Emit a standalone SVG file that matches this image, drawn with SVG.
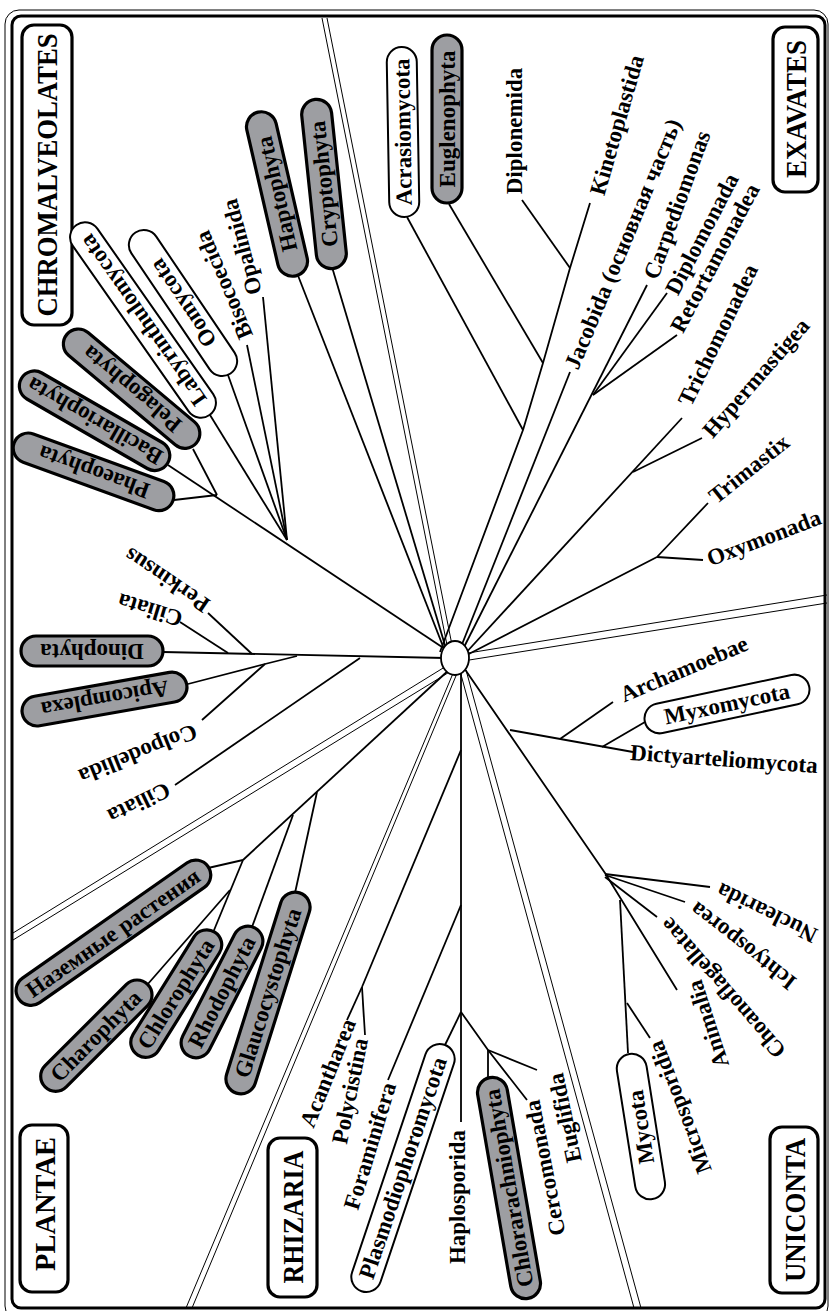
<svg xmlns="http://www.w3.org/2000/svg" width="829" height="1311" viewBox="0 0 829 1311">
<style>
.t{font-family:"Liberation Serif","Times New Roman",serif;font-weight:bold;font-size:23px;fill:#000;text-anchor:middle;dominant-baseline:central}
.gt{font-size:28.5px}
.ln{stroke:#000;stroke-width:1.8;fill:none;stroke-linejoin:round}
.sep{stroke:#000;stroke-width:1;fill:none}
.pg{fill:#9d9ea2;stroke:#000;stroke-width:3.2}
.pw{fill:#fff;stroke:#000;stroke-width:2}
.box{fill:#fff;stroke:#000;stroke-width:3.2}
</style>
<rect width="829" height="1311" fill="#fff"/>
<!-- frame -->
<rect x="5" y="10" width="823" height="1310" rx="14" fill="none" stroke="#000" stroke-width="1"/>
<rect x="12" y="16" width="813" height="1292" rx="9" fill="none" stroke="#000" stroke-width="3"/>

<g id="connectors">
  <!-- separators -->
  <g class="sep">
    <line x1="322" y1="18" x2="448" y2="650"/>
    <line x1="327" y1="18" x2="453" y2="650"/>
    <line x1="462" y1="654" x2="827" y2="595"/>
    <line x1="463" y1="661" x2="827" y2="603"/>
    <line x1="448" y1="665" x2="13" y2="933"/>
    <line x1="451" y1="671" x2="13" y2="940"/>
    <line x1="454" y1="671" x2="186" y2="1308"/>
    <line x1="458" y1="671" x2="192" y2="1308"/>
    <line x1="460" y1="671" x2="634" y2="1308"/>
    <line x1="466" y1="670" x2="641" y2="1308"/>
  </g>
  <g class="ln">
    <!-- chromalveolates -->
    <line x1="448" y1="651" x2="168" y2="465"/>
    <line x1="217" y1="495" x2="193" y2="449"/>
    <line x1="217" y1="495" x2="174" y2="500"/>
    <line x1="287" y1="540" x2="210" y2="415"/>
    <line x1="287" y1="540" x2="228" y2="375"/>
    <line x1="287" y1="540" x2="247" y2="345"/>
    <line x1="287" y1="540" x2="263" y2="297"/>
    <line x1="446" y1="654" x2="297" y2="273"/>
    <line x1="447" y1="652" x2="332" y2="267"/>
    <!-- alveolates -->
    <line x1="163" y1="652" x2="445" y2="658"/>
    <line x1="180" y1="622" x2="228" y2="653"/>
    <line x1="208" y1="613" x2="252" y2="654"/>
    <polyline points="188,684 265,664 297,656"/>
    <line x1="202" y1="720" x2="265" y2="664"/>
    <line x1="175" y1="785" x2="360" y2="658"/>
    <!-- plantae -->
    <line x1="451" y1="668" x2="243" y2="860"/>
    <line x1="317" y1="792" x2="295" y2="893"/>
    <line x1="293" y1="815" x2="252" y2="927"/>
    <line x1="243" y1="860" x2="208" y2="868"/>
    <line x1="243" y1="860" x2="212" y2="935"/>
    <line x1="230" y1="890" x2="147" y2="985"/>
    <!-- rhizaria -->
    <line x1="461" y1="670" x2="461" y2="1122"/>
    <line x1="461" y1="750" x2="362" y2="987"/>
    <line x1="362" y1="987" x2="347" y2="1020"/>
    <line x1="362" y1="987" x2="365" y2="1035"/>
    <line x1="461" y1="905" x2="388" y2="1080"/>
    <line x1="461" y1="1012" x2="445" y2="1045"/>
    <polyline points="461,1012 488,1050 527,1100"/>
    <line x1="488" y1="1050" x2="488" y2="1077"/>
    <line x1="488" y1="1050" x2="537" y2="1070"/>
    <!-- unikonts -->
    <polyline points="462,665 605,873 677,990"/>
    <line x1="510" y1="730" x2="633" y2="752"/>
    <line x1="560" y1="739" x2="613" y2="702"/>
    <line x1="602" y1="747" x2="645" y2="722"/>
    <line x1="605" y1="874" x2="710" y2="887"/>
    <line x1="605" y1="875" x2="685" y2="902"/>
    <line x1="605" y1="877" x2="657" y2="917"/>
    <line x1="620" y1="900" x2="628" y2="1053"/>
    <line x1="627" y1="1003" x2="650" y2="1038"/>
    <!-- excavates -->
    <polyline points="440,652 523,430 543,363 570,268 590,203"/>
    <line x1="407" y1="217" x2="523" y2="430"/>
    <line x1="449" y1="204" x2="543" y2="363"/>
    <line x1="522" y1="200" x2="570" y2="268"/>
    <line x1="457" y1="657" x2="570" y2="372"/>
    <line x1="459" y1="657" x2="647" y2="285"/>
    <line x1="593" y1="395" x2="667" y2="293"/>
    <line x1="593" y1="395" x2="677" y2="335"/>
    <line x1="463" y1="656" x2="682" y2="418"/>
    <line x1="633" y1="472" x2="702" y2="438"/>
    <polyline points="463,657 657,557 708,503"/>
    <line x1="657" y1="557" x2="703" y2="560"/>
  </g>
</g>

<ellipse id="root" cx="455" cy="658" rx="14" ry="17" fill="#fff" stroke="#000" stroke-width="1.8"/>

<!-- supergroup headings -->
<g id="chromalveolates"><rect class="box" x="22" y="25" width="50" height="300" rx="12"/><text class="t gt" transform="translate(47,175) rotate(-90)" textLength="283" lengthAdjust="spacingAndGlyphs">CHROMALVEOLATES</text></g>
<g id="exavates"><rect class="box" x="773" y="27" width="45" height="165" rx="12"/><text class="t gt" transform="translate(796,109) rotate(-90)" textLength="138" lengthAdjust="spacingAndGlyphs">EXAVATES</text></g>
<g id="plantae"><rect class="box" x="20" y="1125" width="48" height="167" rx="12"/><text class="t gt" transform="translate(45,1204) rotate(-90)" textLength="134" lengthAdjust="spacingAndGlyphs">PLANTAE</text></g>
<g id="rhizaria"><rect class="box" x="268" y="1138" width="49" height="159" rx="12"/><text class="t gt" transform="translate(293,1217) rotate(-90)" textLength="133" lengthAdjust="spacingAndGlyphs">RHIZARIA</text></g>
<g id="uniconta"><rect class="box" x="770" y="1127" width="48" height="166" rx="12"/><text class="t gt" transform="translate(795,1210) rotate(-90)" textLength="144" lengthAdjust="spacingAndGlyphs">UNICONTA</text></g>

<!-- chromalveolates -->
<g id="haptophyta" transform="translate(277,194) rotate(-103)"><rect class="pg" x="-84" y="-15" width="168" height="30" rx="15"/><text class="t">Haptophyta</text></g>
<g id="cryptophyta" transform="translate(324,184) rotate(-96)"><rect class="pg" x="-85" y="-15" width="170" height="30" rx="15"/><text class="t">Cryptophyta</text></g>
<g id="pelagophyta" transform="translate(132,389) rotate(-140)"><rect class="pg" x="-84" y="-15" width="169" height="30" rx="15"/><text class="t">Pelagophyta</text></g>
<g id="bacillariophyta" transform="translate(95,421) rotate(-150)"><rect class="pg" x="-84" y="-15" width="169" height="30" rx="15"/><text class="t">Bacillariophyta</text></g>
<g id="phaeophyta" transform="translate(94,472) rotate(-160)"><rect class="pg" x="-84" y="-15" width="169" height="30" rx="15"/><text class="t">Phaeophyta</text></g>
<g id="labyrinthulomycota" transform="translate(143,320) rotate(-125)"><rect class="pw" x="-116" y="-15" width="232" height="30" rx="15"/><text class="t">Labyrinthulomycota</text></g>
<g id="oomycota" transform="translate(183,303) rotate(-124)"><rect class="pw" x="-85" y="-15" width="170" height="30" rx="15"/><text class="t">Oomycota</text></g>
<g id="bisocoecida"><text class="t" transform="translate(224,285) rotate(-113)">Bisocoecida</text></g>
<g id="opalinida"><text class="t" transform="translate(242,247) rotate(-105)">Opalinida</text></g>

<!-- alveolates -->
<g id="dinophyta" transform="translate(92,651) rotate(180)"><rect class="pg" x="-71" y="-15" width="142" height="30" rx="15"/><text class="t">Dinophyta</text></g>
<g id="apicomplexa" transform="translate(105,699) rotate(170)"><rect class="pg" x="-83" y="-15" width="167" height="30" rx="15"/><text class="t">Apicomplexa</text></g>
<g id="ciliata-1"><text class="t" transform="translate(150,610) rotate(-163)">Ciliata</text></g>
<g id="perkinsus"><text class="t" transform="translate(167,580) rotate(-146)">Perkinsus</text></g>
<g id="colpodellida"><text class="t" transform="translate(138,754) rotate(158)">Colpodellida</text></g>
<g id="ciliata-2"><text class="t" transform="translate(139,803) rotate(154)">Ciliata</text></g>

<!-- plantae -->
<g id="land-plants" transform="translate(113,933) rotate(-35)"><rect class="pg" x="-115" y="-15" width="231" height="30" rx="15"/><text class="t">Наземные растения</text></g>
<g id="charophyta" transform="translate(96,1036) rotate(-45)"><rect class="pg" x="-72" y="-15" width="145" height="30" rx="15"/><text class="t">Charophyta</text></g>
<g id="chlorophyta" transform="translate(176,994) rotate(-58)"><rect class="pg" x="-72" y="-15" width="145" height="30" rx="15"/><text class="t">Chlorophyta</text></g>
<g id="rhodophyta" transform="translate(222,992) rotate(-63)"><rect class="pg" x="-72" y="-15" width="144" height="30" rx="15"/><text class="t">Rhodophyta</text></g>
<g id="glaucocystophyta" transform="translate(268,993) rotate(-72.5)"><rect class="pg" x="-105" y="-15" width="210" height="30" rx="15"/><text class="t">Glaucocystophyta</text></g>

<!-- rhizaria -->
<g id="acantharea"><text class="t" transform="translate(328,1073) rotate(-68)">Acantharea</text></g>
<g id="polycistina"><text class="t" transform="translate(350,1091) rotate(-78.5)">Polycistina</text></g>
<g id="foraminifera"><text class="t" transform="translate(370,1146) rotate(-73)">Foraminifera</text></g>
<g id="plasmodiophoromycota" transform="translate(403,1168) rotate(-71.4)"><rect class="pw" x="-130" y="-15" width="260" height="30" rx="15"/><text class="t">Plasmodiophoromycota</text></g>
<g id="haplosporida"><text class="t" transform="translate(457,1197) rotate(-90)">Haplosporida</text></g>
<g id="chlorarachniophyta" transform="translate(509,1188) rotate(-99.8)"><rect class="pg" x="-112" y="-15" width="224" height="30" rx="15"/><text class="t">Chlorarachniophyta</text></g>
<g id="cercomonada"><text class="t" transform="translate(545,1168) rotate(-101)">Cercomonada</text></g>
<g id="euglifida"><text class="t" transform="translate(565,1118) rotate(-102)">Euglifida</text></g>

<!-- unikonts -->
<g id="mycota" transform="translate(641,1127) rotate(-99)"><rect class="pw" x="-73" y="-15" width="147" height="30" rx="15"/><text class="t">Mycota</text></g>
<g id="microsporidia"><text class="t" transform="translate(680,1107) rotate(-111)">Microsporidia</text></g>
<g id="animalia"><text class="t" transform="translate(708,1024) rotate(-108)">Animalia</text></g>
<g id="choanoflagellatae"><text class="t" transform="translate(723,988) rotate(-131)">Choanoflagellatae</text></g>
<g id="ichtyosporea"><text class="t" transform="translate(743,946) rotate(-142)">Ichtyosporea</text></g>
<g id="nuclearida"><text class="t" transform="translate(767,913) rotate(-154)">Nuclearida</text></g>
<g id="archamoebae"><text class="t" transform="translate(684,669) rotate(-23)">Archamoebae</text></g>
<g id="myxomycota" transform="translate(727,704) rotate(-12)"><rect class="pw" x="-84" y="-15" width="168" height="30" rx="15"/><text class="t">Myxomycota</text></g>
<g id="dictyarteliomycota"><text class="t" transform="translate(724,759) rotate(4)">Dictyarteliomycota</text></g>

<!-- excavates -->
<g id="acrasiomycota" transform="translate(403,132) rotate(-91)"><rect class="pw" x="-85" y="-15" width="170" height="30" rx="15"/><text class="t">Acrasiomycota</text></g>
<g id="euglenophyta" transform="translate(447,119) rotate(-90)"><rect class="pg" x="-84" y="-15" width="168" height="30" rx="15"/><text class="t">Euglenophyta</text></g>
<g id="diplonemida"><text class="t" transform="translate(514,131) rotate(-90)">Diplonemida</text></g>
<g id="kinetoplastida"><text class="t" transform="translate(617,125) rotate(-74)">Kinetoplastida</text></g>
<g id="jacobida"><text class="t" transform="translate(623,244) rotate(-67.3)">Jacobida (основная часть)</text></g>
<g id="carpediomonas"><text class="t" transform="translate(677,205) rotate(-70)">Carpediomonas</text></g>
<g id="diplomonada"><text class="t" transform="translate(702,234) rotate(-62.5)">Diplomonada</text></g>
<g id="retortamonadea"><text class="t" transform="translate(715,258) rotate(-62)">Retortamonadea</text></g>
<g id="trichomonadea"><text class="t" transform="translate(718,335) rotate(-64)">Trichomonadea</text></g>
<g id="hypermastigea"><text class="t" transform="translate(756,378) rotate(-49)">Hypermastigea</text></g>
<g id="trimastix"><text class="t" transform="translate(749,469) rotate(-38.7)">Trimastix</text></g>
<g id="oxymonada"><text class="t" transform="translate(764,538) rotate(-21)">Oxymonada</text></g>
</svg>
